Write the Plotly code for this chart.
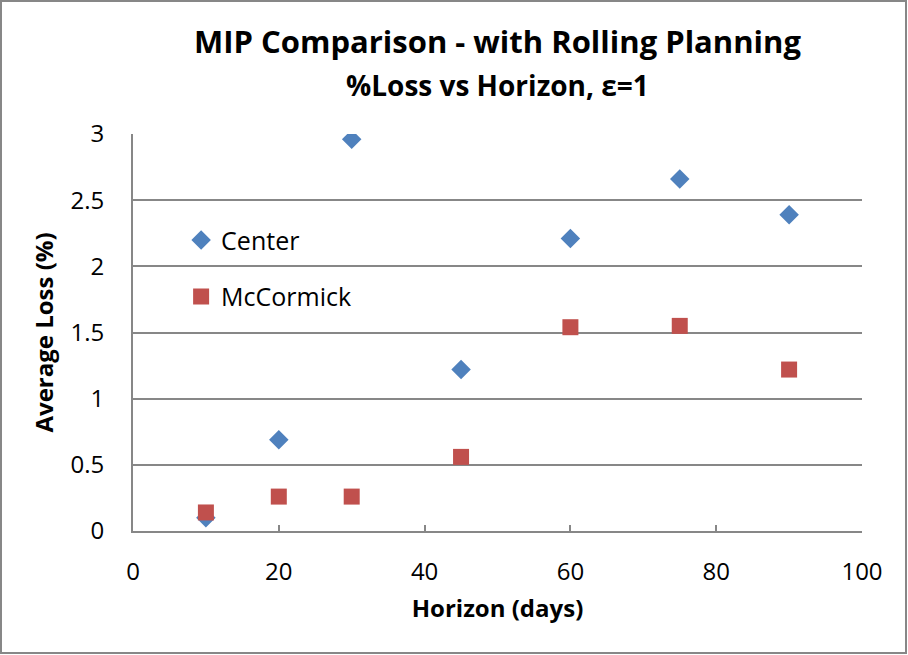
import plotly.graph_objects as go

# data
horizon = [10, 20, 30, 45, 60, 75, 90]
center_loss = [0.10, 0.69, 2.96, 1.22, 2.21, 2.66, 2.39]
mccormick_loss = [0.14, 0.26, 0.26, 0.56, 1.54, 1.55, 1.22]

FONT = "Open Sans"
GRID = "#878787"

fig = go.Figure()
fig.add_trace(go.Scatter(
    x=horizon, y=center_loss,
    mode="markers", name="Center", legendgroup="c",
    marker=dict(symbol="diamond", size=15, color="#4F81BD"),
))
fig.add_trace(go.Scatter(
    x=horizon, y=mccormick_loss,
    mode="markers", name="McCormick", legendgroup="m",
    marker=dict(symbol="square", size=16, color="#C0504D"),
))

fig.update_xaxes(
    range=[0, 100], dtick=20, showgrid=False, zeroline=False,
    showline=True, linecolor=GRID, linewidth=2,
    ticks="inside", ticklen=6, tickcolor=GRID, tickwidth=2,
    ticklabelstandoff=18,
    tickfont=dict(size=24, color="black", family=FONT),
    title=dict(text="<b>Horizon (days)</b>", font=dict(size=24, color="black", family=FONT), standoff=14),
)
fig.update_yaxes(
    range=[0, 3], dtick=0.5, showgrid=True, gridcolor=GRID, gridwidth=1.5,
    zeroline=False, showline=True, linecolor=GRID, linewidth=2,
    ticks="", ticklabelstandoff=22,
    tickfont=dict(size=24, color="black", family=FONT),
    title=dict(text="<b>Average Loss (%)</b>", font=dict(size=24, color="black", family=FONT), standoff=10),
)

fig.update_layout(
    width=908, height=655,
    margin=dict(l=133, r=46, t=134, b=124),
    paper_bgcolor="white", plot_bgcolor="white",
    font=dict(family=FONT, color="black"),
    showlegend=True,
    legend=dict(
        x=0.066, y=0.79, xanchor="left", yanchor="top",
        font=dict(size=25, family=FONT), bgcolor="rgba(0,0,0,0)",
        tracegroupgap=21, itemsizing="trace",
    ),
    annotations=[
        dict(text="<b>MIP Comparison - with Rolling Planning</b>", xref="paper", yref="paper",
             x=0.5, y=1, yshift=93, xanchor="center", yanchor="middle", showarrow=False,
             font=dict(size=31, family=FONT)),
        dict(text="<b>%Loss vs Horizon, ε=1</b>", xref="paper", yref="paper",
             x=0.5, y=1, yshift=49, xanchor="center", yanchor="middle", showarrow=False,
             font=dict(size=28, family=FONT)),
    ],
    shapes=[
        dict(type="rect", xref="paper", yref="paper", x0=-132/729, x1=773/729,
             y0=-122/397, y1=1 + 133/397, line=dict(color=GRID, width=2)),
    ],
)

fig.write_html("out.html", config={"displayModeBar": False},
               post_script="document.body.style.margin='0';")
